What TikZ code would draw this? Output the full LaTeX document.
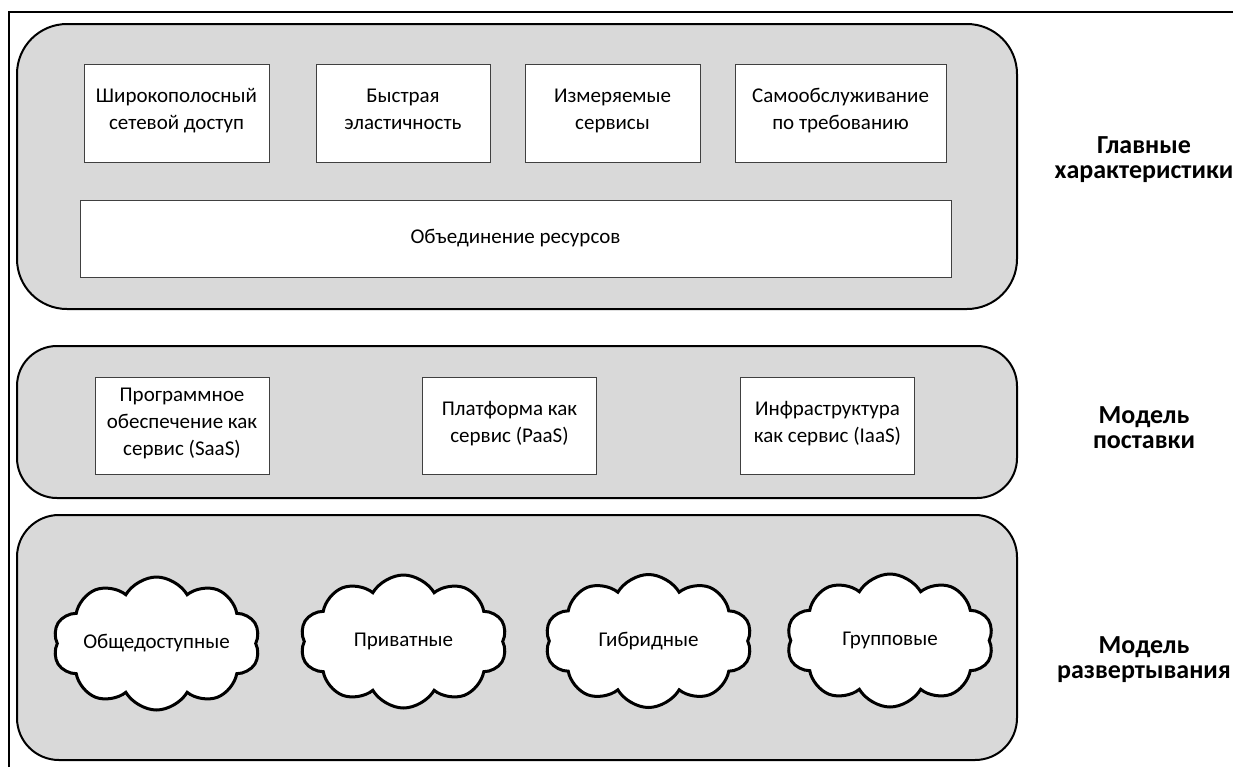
\documentclass[tikz,border=0pt]{standalone}
\usepackage{fontspec}
\setmainfont{Carlito}
\usepackage{tikz}
\usetikzlibrary{shapes.symbols,positioning}

\definecolor{panelgray}{HTML}{D9D9D9}
\definecolor{boxline}{HTML}{404040}

\tikzset{
    panel/.style={draw=black, line width=1pt, fill=panelgray},
    feature/.style={draw=boxline, line width=0.5pt, fill=white, align=center,
        inner sep=0pt, font=\fontsize{10.5}{13.5}\selectfont,
        execute at begin node=\strut, execute at end node=\strut},
    toprow/.style={feature, minimum height=49pt},
    midrow/.style={feature, minimum height=48.5pt, minimum width=87pt},
    puff/.style={cloud, cloud puffs=10, cloud puff arc=120, aspect=1.55,
        draw=black, line width=1.5pt, fill=white, inner sep=0pt,
        minimum width=103.5pt, minimum height=66.5pt,
        font=\fontsize{10.5}{13.5}\selectfont},
    side/.style={align=center, font=\fontsize{13}{12.5}\selectfont\bfseries}
}

\begin{document}
\begin{tikzpicture}[x=0.5pt, y=-0.5pt]
    \useasboundingbox (0,0) rectangle (1233,767);

    % Outer frame (left and top edges only)
    \draw[line width=1pt] (9,767) -- (9,12) -- (1233,12);

    % Panels
    \draw[panel, rounded corners=25pt] (17,24) rectangle (1017,309);
    \draw[panel, rounded corners=20pt] (17,346) rectangle (1017,498);
    \draw[panel, rounded corners=21pt] (17,515) rectangle (1017,760);

    % Main characteristics
    \node[toprow, minimum width=92.5pt] (broad) at (176.5,113) {Широкополосный\\сетевой доступ};
    \node[toprow, minimum width=87pt] (elastic) at (403,113) {Быстрая\\эластичность};
    \node[toprow, minimum width=87.5pt] (measured) at (612.5,113) {Измеряемые\\сервисы};
    \node[toprow, minimum width=105.5pt] (selfserv) at (840.5,113) {Самообслуживание\\по требованию};
    \node[feature, minimum width=435.5pt, minimum height=38.5pt] (pool) at (515.5,238.5) {Объединение ресурсов};

    % Service models
    \node[midrow] (saas) at (182,425.5) {Программное\\обеспечение как\\сервис (SaaS)};
    \node[midrow] (paas) at (509.5,425.5) {Платформа как\\сервис (PaaS)};
    \node[midrow] (iaas) at (827.5,425.5) {Инфраструктура\\как сервис (IaaS)};

    % Deployment models
    \node[puff] (public) at (156.5,643.5) {\makebox[0pt]{Общедоступные}};
    \node[puff] (private) at (403.5,641.5) {\makebox[0pt]{Приватные}};
    \node[puff] (hybrid) at (648.5,641) {\makebox[0pt]{Гибридные}};
    \node[puff] (group) at (890,640.5) {\makebox[0pt]{Групповые}};

    % Layer titles
    \node[side] (maintitle) at (1144,160) {Главные\\характеристики};
    \node[side] (servtitle) at (1144,428) {Модель\\поставки};
    \node[side] (deploytitle) at (1144,660) {Модель\\развертывания};
\end{tikzpicture}
\end{document}
